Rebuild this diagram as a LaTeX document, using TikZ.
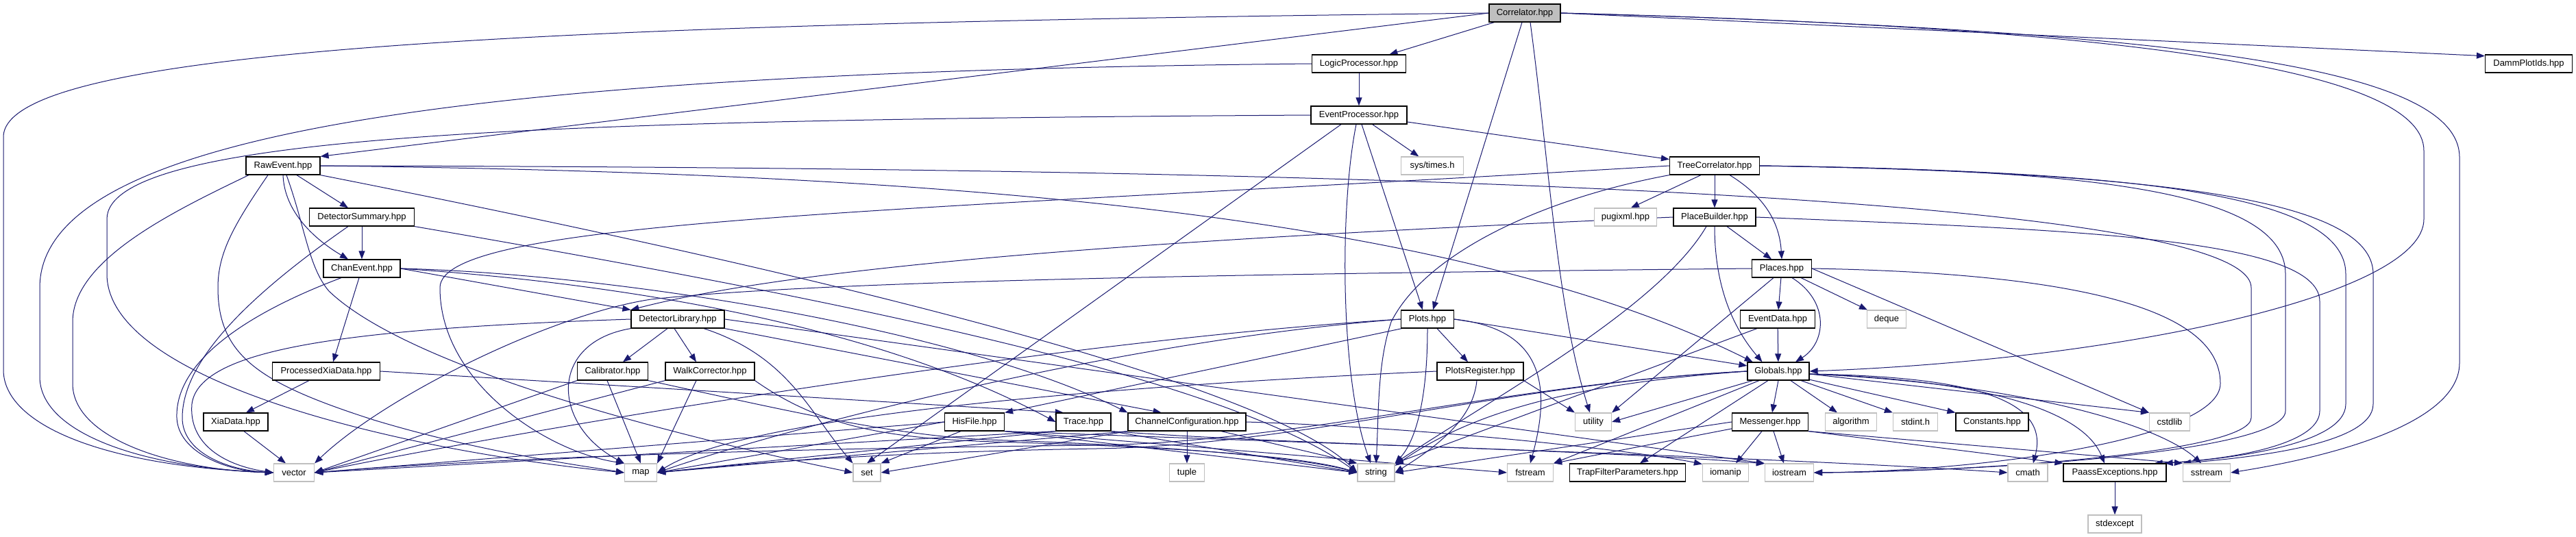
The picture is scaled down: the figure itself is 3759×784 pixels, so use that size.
\documentclass[tikz,border=0pt]{standalone}
\usepackage{fontspec}
\setmainfont{Liberation Sans}
\usetikzlibrary{arrows.meta}
\definecolor{edgec}{HTML}{191970}
\definecolor{grayb}{HTML}{BFBFBF}
\pgfdeclarelayer{bglayer}
\pgfdeclarelayer{edgelayer}
\pgfsetlayers{bglayer,edgelayer,main}
\begin{document}
\begin{tikzpicture}[x=1pt,y=-1pt,
  every node/.style={font=\fontsize{13}{15}\selectfont, inner sep=0pt, minimum height=26pt},
  hbox/.style={draw=black, line width=1.2pt, fill=white},
  sbox/.style={draw=grayb, line width=1.2pt, fill=white},
  cbox/.style={draw=black, line width=1.2pt, fill=grayb},
  e/.style={draw=edgec, line width=1pt, -{Triangle[length=12pt,width=9pt]}}]
\begin{pgfonlayer}{bglayer}
\fill[white] (0,0) rectangle (3759,784);
\end{pgfonlayer}
\useasboundingbox (0,0) rectangle (3759,784);
% nodes
\node[cbox,minimum width=104pt] (C) at (2225,19) {Correlator.hpp};
\node[hbox,minimum width=137pt] (LP) at (1983,93) {LogicProcessor.hpp};
\node[hbox,minimum width=127pt] (DP) at (3690,93) {DammPlotIds.hpp};
\node[hbox,minimum width=140pt] (EP) at (1983,168) {EventProcessor.hpp};
\node[hbox,minimum width=108pt] (RE) at (413,242) {RawEvent.hpp};
\node[sbox,minimum width=91pt] (ST) at (2090,242) {sys/times.h};
\node[hbox,minimum width=131pt] (TC) at (2502,242) {TreeCorrelator.hpp};
\node[hbox,minimum width=153pt] (DS) at (528,317) {DetectorSummary.hpp};
\node[sbox,minimum width=91pt] (PX) at (2372,317) {pugixml.hpp};
\node[hbox,minimum width=120pt] (PB) at (2502,317) {PlaceBuilder.hpp};
\node[hbox,minimum width=112pt] (CE) at (528,392) {ChanEvent.hpp};
\node[hbox,minimum width=87pt] (PL) at (2600,392) {Places.hpp};
\node[hbox,minimum width=136pt] (DL) at (989,466) {DetectorLibrary.hpp};
\node[hbox,minimum width=77pt] (PT) at (2083,466) {Plots.hpp};
\node[hbox,minimum width=109pt] (ED) at (2594,466) {EventData.hpp};
\node[sbox,minimum width=57pt] (DQ) at (2753,466) {deque};
\node[hbox,minimum width=157pt] (PXD) at (476,542) {ProcessedXiaData.hpp};
\node[hbox,minimum width=103pt] (CA) at (894,542) {Calibrator.hpp};
\node[hbox,minimum width=130pt] (WC) at (1036,542) {WalkCorrector.hpp};
\node[hbox,minimum width=126pt] (PR) at (2160,542) {PlotsRegister.hpp};
\node[hbox,minimum width=90pt] (G) at (2595,542) {Globals.hpp};
\node[hbox,minimum width=94pt] (XD) at (344,616) {XiaData.hpp};
\node[hbox,minimum width=87pt] (HF) at (1422,616) {HisFile.hpp};
\node[hbox,minimum width=80pt] (TR) at (1581,616) {Trace.hpp};
\node[hbox,minimum width=172pt] (CC) at (1732,616) {ChannelConfiguration.hpp};
\node[sbox,minimum width=53pt] (UT) at (2325,616) {utility};
\node[hbox,minimum width=111pt] (MS) at (2583,616) {Messenger.hpp};
\node[sbox,minimum width=75pt] (AL) at (2701,616) {algorithm};
\node[sbox,minimum width=65pt] (SI) at (2795,616) {stdint.h};
\node[hbox,minimum width=106pt] (CO) at (2907,616) {Constants.hpp};
\node[sbox,minimum width=59pt] (CS) at (3166,616) {cstdlib};
\node[sbox,minimum width=59pt] (VE) at (429,690) {vector};
\node[sbox,minimum width=47pt] (MA) at (935,690) {map};
\node[sbox,minimum width=40pt] (SE) at (1265,690) {set};
\node[sbox,minimum width=51pt] (TU) at (1732,690) {tuple};
\node[sbox,minimum width=54pt] (SR) at (2008,690) {string};
\node[sbox,minimum width=67pt] (FS) at (2233,690) {fstream};
\node[hbox,minimum width=169pt] (TF) at (2375,690) {TrapFilterParameters.hpp};
\node[sbox,minimum width=67pt] (IM) at (2518,690) {iomanip};
\node[sbox,minimum width=71pt] (IO) at (2611,690) {iostream};
\node[sbox,minimum width=58pt] (CM) at (2959,690) {cmath};
\node[hbox,minimum width=150pt] (PE) at (3086,690) {PaassExceptions.hpp};
\node[sbox,minimum width=69pt] (SS) at (3220,690) {sstream};
\node[sbox,minimum width=78pt] (SX) at (3086,765) {stdexcept};
\begin{pgfonlayer}{edgelayer}
% Correlator
\draw[e] (C) -- (LP);
\draw[e] (C.east) -- (DP.170);
\draw[e] (C.west) -- (RE.north east);
\draw[e] (C.west) .. controls (800,35) and (5,70) .. (5,200) -- (5,540) .. controls (5,620) and (150,680) .. (VE.west);
\draw[e] ([xshift=-4pt]C.south) -- ([xshift=8pt]PT.north);
\draw[e] ([xshift=8pt]C.south) .. controls (2262,250) and (2272,450) .. ([xshift=-5pt]UT.north);
\draw[e] (C.east) .. controls (3100,40) and (3537,100) .. (3537,220) -- (3537,320) .. controls (3537,430) and (3100,525) .. (G.east);
\draw[e] (C.east) .. controls (3200,45) and (3589,100) .. (3589,230) -- (3589,530) .. controls (3589,630) and (3350,675) .. (SS.east);
% LogicProcessor
\draw[e] (LP) -- (EP);
\draw[e] (LP.west) .. controls (700,105) and (58,190) .. (58,420) -- (58,550) .. controls (58,630) and (200,682) .. (VE.west);
% EventProcessor
\draw[e] (EP) -- (TC);
\draw[e] (EP) -- (ST);
\draw[e] ([xshift=4pt]EP.south) -- ([xshift=-7pt]PT.north);
\draw[e] ([xshift=-4pt]EP.south) .. controls (1955,300) and (1955,550) .. (SR.120);
\draw[e] ([xshift=-26pt]EP.south) -- (SE.north);
\draw[e] (EP.west) .. controls (800,175) and (156,195) .. (156,320) -- (156,400) .. controls (156,560) and (600,660) .. (MA.west);
% RawEvent
\draw[e] ([xshift=20pt]RE.south) -- ([xshift=-20pt]DS.north);
\draw[e] (RE.south) .. controls (415,310) and (460,350) .. ([xshift=-20pt]CE.north);
\draw[e] (RE.east) .. controls (1500,244) and (3285,262) .. (3285,420) -- (3285,610) .. controls (3285,660) and (2900,688) .. (IO.east);
\draw[e] (RE.east) .. controls (1300,252) and (2100,300) .. (G.160);
\draw[e] (RE.south east) .. controls (1200,400) and (1850,560) .. (SR.west);
\draw[e] ([xshift=-50pt]RE.south) .. controls (250,310) and (106,380) .. (106,470) -- (106,560) .. controls (106,640) and (250,686) .. (VE.west);
\draw[e] ([xshift=-22pt]RE.south) .. controls (340,330) and (318,370) .. (318,420) .. controls (318,520) and (380,560) .. (545,613) .. controls (700,660) and (850,680) .. (MA.west);
\draw[e] ([xshift=5pt]RE.south) .. controls (445,330) and (450,390) .. (480,425) .. controls (600,540) and (1000,640) .. (SE.west);
% DetectorSummary
\draw[e] (DS) -- (CE);
\draw[e] ([xshift=-20pt]DS.south) .. controls (380,420) and (266,520) .. (266,610) .. controls (266,660) and (330,686) .. (VE.west);
\draw[e] (DS.south east) .. controls (1300,450) and (1800,560) .. (SR.west);
% ChanEvent
\draw[e] ([xshift=-4pt]CE.south) -- ([xshift=10pt]PXD.north);
\draw[e] ([xshift=-30pt]CE.south) .. controls (380,450) and (255,520) .. (258,610) .. controls (260,660) and (330,688) .. (VE.west);
\draw[e] (CE.east) -- (DL.north west);
\draw[e] (CE.east) .. controls (850,410) and (1250,460) .. (TR.west);
\draw[e] (CE.east) .. controls (900,400) and (1400,480) .. (CC.north west);
% DetectorLibrary
\draw[e] ([xshift=-15pt]DL.south) -- ([xshift=15pt]CA.north);
\draw[e] ([xshift=-5pt]DL.south) -- ([xshift=-20pt]WC.north);
\draw[e] (DL.west) .. controls (500,480) and (290,510) .. (280,590) .. controls (275,650) and (330,680) .. (VE.west);
\draw[e] (DL.south west) .. controls (800,500) and (805,620) .. (MA.north west);
\draw[e] ([xshift=38pt]DL.south) .. controls (1150,520) and (1180,600) .. (SE.north west);
\draw[e] (DL.south east) -- (CC.160);
\draw[e] (DL.east) -- (IO.north west);
% Calibrator
\draw[e] (CA.south west) -- (VE.east);
\draw[e] ([xshift=-8pt]CA.south) -- (MA.north);
\draw[e] (CA.south east) .. controls (1150,600) and (1300,635) .. (1440,642) .. controls (1700,650) and (1900,668) .. (SR.west);
% WalkCorrector
\draw[e] (WC.south west) -- (VE.east);
\draw[e] ([xshift=-20pt]WC.south) -- (MA.north east);
\draw[e] (WC.south east) .. controls (1200,625) and (1300,640) .. (1450,645) .. controls (1700,652) and (1900,665) .. (SR.west);
% ProcessedXiaData, XiaData
\draw[e] ([xshift=-25pt]PXD.south) -- ([xshift=15pt]XD.north);
\draw[e] (PXD.east) -- (TR.155);
\draw[e] ([xshift=12pt]XD.south) -- ([xshift=-12pt]VE.north);
% HisFile
\draw[e] (HF.west) -- (VE.east);
\draw[e] (HF.west) -- (MA.east);
\draw[e] ([xshift=-20pt]HF.south) -- (SE.north east);
\draw[e] (HF.south east) -- (SR.west);
\draw[e] (HF.south east) -- (FS.west);
\draw[e] (HF.south east) .. controls (2000,650) and (2600,668) .. (CM.west);
% Trace
\draw[e] (TR.south west) -- (VE.east);
\draw[e] (TR.south west) -- (MA.east);
\draw[e] (TR.south east) -- (SR.west);
\draw[e] (TR.south east) .. controls (1900,650) and (2300,655) .. (IO.160);
% ChannelConfiguration
\draw[e] (CC) -- (TU);
\draw[e] (CC.south west) -- (SE.east);
\draw[e] (CC.south west) -- (MA.east);
\draw[e] ([xshift=50pt]CC.south) -- (SR.north west);
\draw[e] (CC.east) .. controls (2100,625) and (2400,660) .. (IM.160);
% Plots
\draw[e] (PT.east) -- (G.170);
\draw[e] ([xshift=14pt]PT.south) -- ([xshift=-18pt]PR.north);
\draw[e] (PT.east) .. controls (2250,480) and (2265,560) .. (FS.north);
\draw[e] (PT.south) .. controls (2083,600) and (2060,650) .. (SR.north east);
\draw[e] (PT.west) .. controls (1600,500) and (1100,640) .. (MA.east);
\draw[e] (PT.west) .. controls (1500,500) and (700,640) .. (VE.east);
\draw[e] (PT.200) -- (HF.north east);
% PlotsRegister
\draw[e] (PR.south east) -- (UT.north west);
\draw[e] ([xshift=-5pt]PR.south) .. controls (2150,610) and (2100,650) .. (SR.east);
\draw[e] (PR.west) .. controls (1700,560) and (1100,600) .. (MA.east);
% EventData
\draw[e] (ED) -- (G);
\draw[e] ([xshift=-30pt]ED.south) -- (SR.north east);
% Places
\draw[e] (PL) -- (ED);
\draw[e] ([xshift=15pt]PL.south) .. controls (2670,440) and (2665,500) .. ([xshift=25pt]G.north);
\draw[e] ([xshift=-12pt]PL.south) -- (UT.north east);
\draw[e] (PL) -- (DQ);
\draw[e] (PL.east) -- (CS.north west);
\draw[e] (PL.west) .. controls (1800,400) and (1200,410) .. (950,437) .. controls (800,460) and (560,580) .. (VE.north east);
\draw[e] (PL.east) .. controls (3100,400) and (3240,470) .. (3240,560) .. controls (3240,640) and (2900,688) .. (IO.east);
% Globals
\draw[e] (G.south) -- ([xshift=3pt]MS.north);
\draw[e] ([xshift=18pt]G.south) -- ([xshift=-20pt]AL.north);
\draw[e] ([xshift=33pt]G.south) -- (SI.north west);
\draw[e] (G.345) -- (CO.north west);
\draw[e] (G.355) -- (CS.north west);
\draw[e] (G.355) .. controls (2900,550) and (2990,590) .. (CM.60);
\draw[e] (G.355) .. controls (2900,555) and (3040,600) .. ([xshift=-15pt]PE.north);
\draw[e] (G.355) .. controls (2950,560) and (3150,620) .. (SS.120);
\draw[e] (G.200) -- (UT.east);
\draw[e] ([xshift=-28pt]G.south) -- (FS.north east);
\draw[e] ([xshift=-15pt]G.south) -- ([xshift=18pt]TF.north);
\draw[e] (G.west) .. controls (2300,560) and (2150,600) .. (SR.20);
\draw[e] (G.west) .. controls (2200,560) and (1900,650) .. (1600,655) .. controls (1300,660) and (1100,675) .. (MA.east);
\draw[e] (G.west) .. controls (2200,560) and (1900,645) .. (1600,650) .. controls (1100,655) and (700,670) .. (VE.east);
% Messenger
\draw[e] ([xshift=-12pt]MS.south) -- ([xshift=15pt]IM.north);
\draw[e] ([xshift=5pt]MS.south) -- ([xshift=-8pt]IO.north);
\draw[e] (MS.west) -- (SR.east);
\draw[e] (MS.190) -- (FS.north east);
\draw[e] (MS.south east) -- (SS.north west);
\draw[e] (MS.south east) -- (PE.north west);
% PaassExceptions
\draw[e] (PE) -- (SX);
% TreeCorrelator
\draw[e] ([xshift=-20pt]TC.south) -- (PX.60);
\draw[e] (TC) -- (PB);
\draw[e] ([xshift=22pt]TC.south) .. controls (2580,290) and (2597,330) .. (PL.north);
\draw[e] (TC.west) .. controls (1300,310) and (642,320) .. (642,420) .. controls (642,560) and (800,660) .. (MA.north west);
\draw[e] (TC.south west) .. controls (2250,290) and (2080,370) .. (2030,470) .. controls (2010,530) and (2012,600) .. (SR.north);
\draw[e] (TC.east) .. controls (3000,248) and (3335,270) .. (3335,400) -- (3335,600) .. controls (3335,660) and (2900,688) .. (IO.east);
\draw[e] (TC.east) .. controls (3100,250) and (3423,280) .. (3423,400) -- (3423,590) .. controls (3423,650) and (3250,670) .. ([xshift=-3pt]PE.north east);
\draw[e] (TC.east) .. controls (3150,252) and (3463,290) .. (3463,400) -- (3463,590) .. controls (3463,650) and (3280,668) .. (SS.north west);
% PlaceBuilder
\draw[e] ([xshift=18pt]PB.south) -- ([xshift=-15pt]PL.north);
\draw[e] (PB.west) .. controls (1800,345) and (1200,380) .. (DL.north west);
\draw[e] ([xshift=-12pt]PB.south) .. controls (2420,450) and (2180,580) .. (SR.north east);
\draw[e] (PB.south) .. controls (2502,420) and (2530,480) .. (G.150);
\draw[e] (PB.east) .. controls (3000,335) and (3385,345) .. (3385,440) -- (3385,600) .. controls (3385,650) and (3250,672) .. ([xshift=-18pt]PE.north east);
\end{pgfonlayer}
\end{tikzpicture}
\end{document}
